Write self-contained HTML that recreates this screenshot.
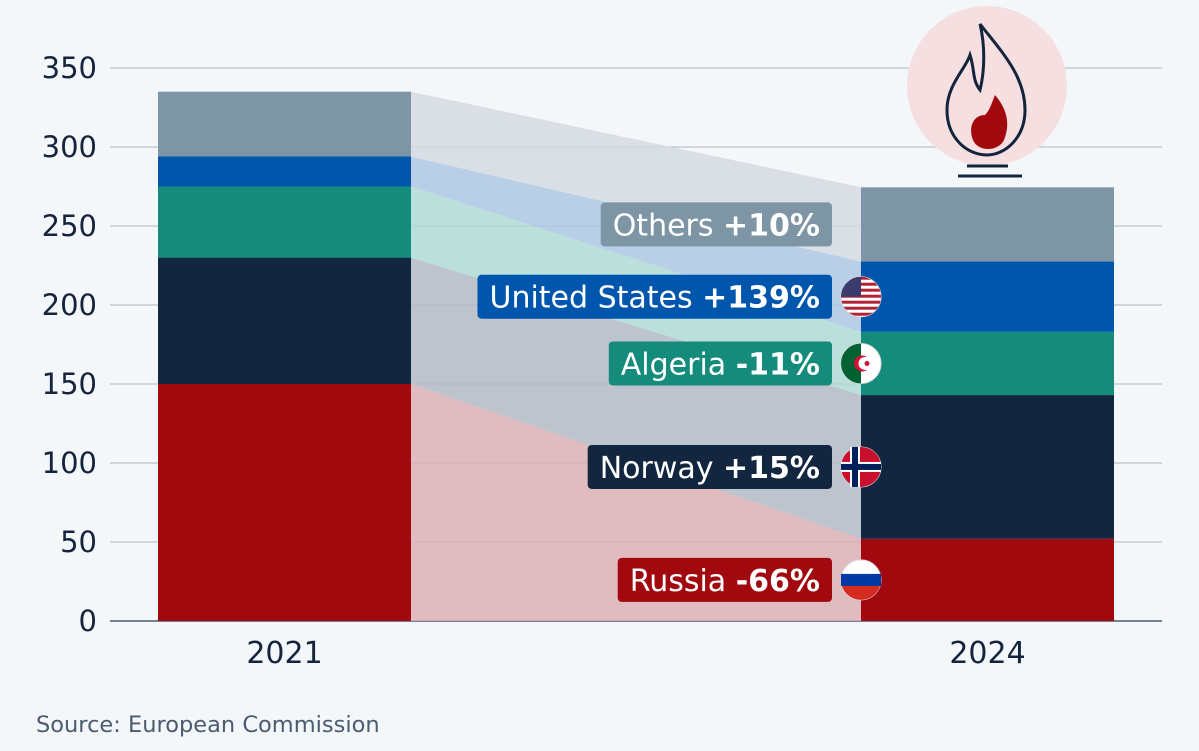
<!DOCTYPE html>
<html><head><meta charset="utf-8"><style>
body{margin:0;background:#f4f7fa;font-family:"DejaVu Sans",sans-serif}
svg{display:block}
</style></head><body>
<svg id="chart" width="1199" height="751">
<defs><clipPath id="usclip"><circle cx="861" cy="297" r="20"/></clipPath></defs>
<rect width="1199" height="751" fill="#f4f7fa"/>
<g id="grid"></g><g id="bands"></g><g id="bars"></g><g id="labels"></g>
<g>
<circle cx="987" cy="86" r="80" fill="#f6dfe0"/>
<path d="M980 24 C1000 50 1025 75 1025 110 C1025 138 1005 155 987 155 C967 155 947 138 947 110 C947 85 965 70 970 55 C975 70 972 80 980 90 C985 70 985 45 980 24 Z" fill="none" stroke="#15243d" stroke-width="3"/>
<path d="M995 95 C1008 110 1010 125 1004 140 C998 152 978 152 973 140 C968 128 973 115 985 115 C990 110 992 102 995 95 Z" fill="#a1090f"/>
<line x1="967" y1="166" x2="1008" y2="166" stroke="#15243d" stroke-width="3"/>
<line x1="958" y1="176" x2="1022" y2="176" stroke="#15243d" stroke-width="3"/>
</g>
<text x="36" y="732" font-size="22.5" fill="#4b5b70">Source: European Commission</text>
</svg>
<script>
const years=["2021","2024"];
const series=["Russia","Norway","Algeria","United States","Others"];
const v2021=[150,80,45,19,41];
const v2024=[52,91,40,44.5,47];
const changes=["-66%","+15%","-11%","+139%","+10%"];
const ticks=[0,50,100,150,200,250,300,350];
const colors=["#a1090f","#13263f","#148b7b","#0055ad","#7d95a5"];
const bandColors=["#dcb0b5","#b3bbc6","#b0dad5","#aec8e4","#d3dbe1"];
const NS="http://www.w3.org/2000/svg";
const y=v=>621-v*1.58;
const x0=158,x1=861,bw=253;
function mk(tag,attrs,parent){const e=document.createElementNS(NS,tag);for(const k in attrs)e.setAttribute(k,attrs[k]);document.getElementById(parent).appendChild(e);return e;}
ticks.forEach(t=>{
 const l=mk("line",{x1:110,x2:1162,y1:y(t),y2:y(t),stroke:t===0?"#4a5a70":"#aab4bf","stroke-width":t===0?1.5:1},"grid");
 
 
 const tx=mk("text",{x:97,y:y(t)+10,"text-anchor":"end","font-size":29,fill:"#15243d"},"grid");
 tx.textContent=t;
 
 
});
let c1=0,c2=0;
series.forEach((s,i)=>{
 const a0=c1,a1=c1+v2021[i],b0=c2,b1=c2+v2024[i];
 const p=mk("polygon",{points:`${x0+bw},${y(a0)} ${x0+bw},${y(a1)} ${x1},${y(b1)} ${x1},${y(b0)}`,fill:bandColors[i],opacity:0.85},"bands");
 
 
 const r1=mk("rect",{x:x0,y:y(a1),width:bw,height:y(a0)-y(a1),fill:colors[i]},"bars");
 
 
 const r2=mk("rect",{x:x1,y:y(b1),width:bw,height:y(b0)-y(b1),fill:colors[i]},"bars");
 
 
 const cy=y((b0+b1)/2);
 const t=mk("text",{x:820,y:cy+11,"text-anchor":"end","font-size":30,fill:"#fff"},"labels");
 t.innerHTML=s+' <tspan font-weight="bold">'+changes[i]+'</tspan>';
 
 
 const w=t.getComputedTextLength();
 const bg=mk("rect",{x:832-w-24,y:cy-22,width:w+24,height:44,rx:4,fill:colors[i]},"labels");
 
 
 document.getElementById("labels").insertBefore(bg,t);
 if(s!=="Others"){
  const f=mk("circle",{cx:861,cy:cy,r:20,fill:"#fff",stroke:"#ddd"},"labels");
  
  
  if(s==="Russia"){mk("path",{d:`M841 ${cy} a20 20 0 0 0 40 0 Z`,fill:"#d52b1e"},"labels");mk("rect",{x:841,y:cy-6,width:40,height:12,fill:"#0039a6"},"labels");}
  if(s==="Norway"){mk("circle",{cx:861,cy:cy,r:20,fill:"#c8102e"},"labels");mk("rect",{x:841,y:cy-5,width:40,height:10,fill:"#fff"},"labels");mk("rect",{x:850,y:cy-20,width:10,height:40,fill:"#fff"},"labels");mk("rect",{x:841,y:cy-3,width:40,height:6,fill:"#00205b"},"labels");mk("rect",{x:852,y:cy-20,width:6,height:40,fill:"#00205b"},"labels");}
  if(s==="Algeria"){mk("path",{d:`M861 ${cy-20} a20 20 0 0 0 0 40 Z`,fill:"#006233"},"labels");mk("circle",{cx:862,cy:cy,r:8,fill:"#d21034"},"labels");mk("circle",{cx:865,cy:cy,r:6.5,fill:"#fff"},"labels");mk("circle",{cx:867,cy:cy,r:2.5,fill:"#d21034"},"labels");}
  if(s==="United States"){document.getElementById("usclip").firstElementChild.setAttribute("cy",cy);for(let k=0;k<7;k++)mk("rect",{x:841,y:cy-20+k*6,width:40,height:3,fill:"#b22234","clip-path":"url(#usclip)"},"labels");mk("rect",{x:841,y:cy-20,width:20,height:20,fill:"#3c3b6e","clip-path":"url(#usclip)"},"labels");}
 }
 c1=a1;c2=b1;
});
years.forEach((yr,i)=>{
 const t=mk("text",{x:(i?x1:x0)+bw/2,y:663,"text-anchor":"middle","font-size":30,fill:"#15243d"},"grid");
 t.textContent=yr;
 
 
});
</script>
</body></html>
